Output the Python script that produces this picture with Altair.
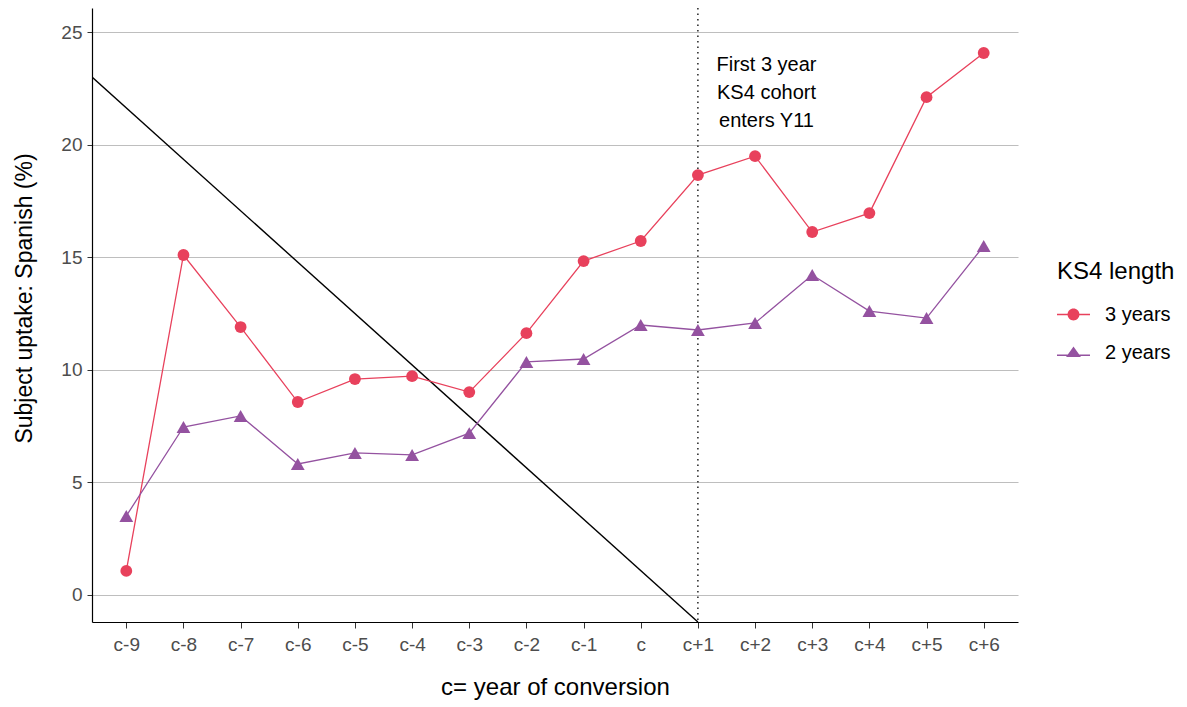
import altair as alt
import pandas as pd

# data
periods = ['c-9', 'c-8', 'c-7', 'c-6', 'c-5', 'c-4', 'c-3', 'c-2',
           'c-1', 'c', 'c+1', 'c+2', 'c+3', 'c+4', 'c+5', 'c+6']
three_years = [1.07, 15.1, 11.9, 8.57, 9.59, 9.72, 9.01, 11.63,
               14.83, 15.72, 18.65, 19.49, 16.12, 16.96, 22.11, 24.07]
two_years = [3.51, 7.46, 7.95, 5.82, 6.31, 6.22, 7.19, 10.35,
             10.48, 11.99, 11.77, 12.08, 14.21, 12.61, 12.3, 15.5]
series = ['3 years', '2 years']
colors = ['#E8415C', '#9452A0']

# reference diagonal and conversion marker
diag_x = [-0.6, 10]
diag_y = [23.0, -1.2]
marker_x = [10]
note_text = ['First 3 year\nKS4 cohort\nenters Y11']
note_x = [11.2]
note_y = [23.97]

rows = []
for i, p in enumerate(periods):
    rows.append({'idx': i, 'period': p, 'value': three_years[i], 'KS4 length': series[0]})
    rows.append({'idx': i, 'period': p, 'value': two_years[i], 'KS4 length': series[1]})
df = pd.DataFrame(rows)

FONT = 'Liberation Sans'
label_expr = '[' + ','.join("'%s'" % p for p in periods) + '][datum.value]'

x_scale = alt.Scale(domain=[-0.6, 15.6], nice=False, zero=False)
y_scale = alt.Scale(domain=[-1.2, 26.07], nice=False, zero=False)

x_enc = alt.X('idx:Q', scale=x_scale, title='c= year of conversion',
              axis=alt.Axis(values=list(range(len(periods))), labelExpr=label_expr,
                            grid=False, labelFontSize=19, labelColor='#4D4D4D',
                            titleFontSize=24, titleFontWeight='normal', titleColor='black',
                            tickColor='#333333', tickSize=6, labelPadding=7, titlePadding=21,
                            domainColor='black', domainWidth=1.2, labelFont=FONT, titleFont=FONT))
y_enc = alt.Y('value:Q', scale=y_scale, title='Subject uptake: Spanish (%)',
              axis=alt.Axis(values=[0, 5, 10, 15, 20, 25], grid=True, gridColor='#BEBEBE',
                            gridWidth=1.1, labelFontSize=19, labelColor='#4D4D4D',
                            titleFontSize=23, titleFontWeight='normal', titleColor='black',
                            tickColor='#333333', tickSize=5, labelPadding=5, titlePadding=24,
                            titleY=290,
                            domainColor='black', domainWidth=1.2, labelFont=FONT, titleFont=FONT))

color_scale = alt.Scale(domain=series, range=colors)

# legend keys: a short line with the point on top of it
circle_leg = 'M-1,-0.045H1V0.045H-1Z M0.36,0 A0.36,0.36 0 1 1 -0.36,0 A0.36,0.36 0 1 1 0.36,0Z'
tri_leg = 'M-1,0.12H1V0.21H-1Z M0,-0.36L0.45,0.27L-0.45,0.27Z'
shape_scale = alt.Scale(domain=series, range=[circle_leg, tri_leg])

leg = alt.Legend(
    title='KS4 length', orient='none', legendX=965, legendY=252,
    titleFontSize=24, titleFontWeight='normal', titleFont=FONT,
    titleColor='black', titlePadding=14,
    labelFontSize=20, labelFont=FONT, labelColor='black',
    labelOffset=15, rowPadding=11, symbolSize=1089,
    symbolStrokeWidth=0, symbolOpacity=1)

color_enc = alt.Color('KS4 length:N', scale=color_scale, sort=series, legend=leg)

base = alt.Chart(df)

lines = base.mark_line(strokeWidth=1.3).encode(x=x_enc, y=y_enc, color=color_enc)

pts_circle = base.mark_point(shape='circle', filled=True, size=140, opacity=1).encode(
    x=x_enc, y=y_enc, color=color_enc,
).transform_filter(alt.datum['KS4 length'] == series[0])

pts_tri = base.mark_point(shape='triangle-up', filled=True, size=190, opacity=1).encode(
    x=x_enc, y=y_enc, color=color_enc,
).transform_filter(alt.datum['KS4 length'] == series[1])

# invisible points that only carry the legend keys
keys = base.mark_point(filled=True, size=0, opacity=1).encode(
    x=x_enc, y=y_enc, color=color_enc,
    shape=alt.Shape('KS4 length:N', scale=shape_scale, sort=series, legend=leg),
)

diag = alt.Chart(pd.DataFrame({'idx': diag_x, 'value': diag_y})).mark_line(
    color='black', strokeWidth=1.4, clip=True).encode(x=x_enc, y=y_enc)

marker = alt.Chart(pd.DataFrame({'idx': marker_x})).mark_rule(
    color='black', strokeWidth=1.3, strokeDash=[1.5, 4]).encode(x=x_enc)

note = alt.Chart(pd.DataFrame({'idx': note_x, 'value': note_y, 'txt': note_text})).mark_text(
    font=FONT, fontSize=20, color='black', lineBreak='\n', lineHeight=28,
    align='center', baseline='top').encode(x=x_enc, y=y_enc, text='txt:N')

chart = alt.layer(diag, marker, lines, pts_circle, pts_tri, keys, note).properties(
    width=926, height=614,
    autosize=alt.AutoSizeParams(type='none'),
    padding={'left': 84, 'top': 0, 'right': 160, 'bottom': 90},
).configure_view(stroke=None)

chart.save("out.html", embed_options={"renderer": "svg", "actions": False})
